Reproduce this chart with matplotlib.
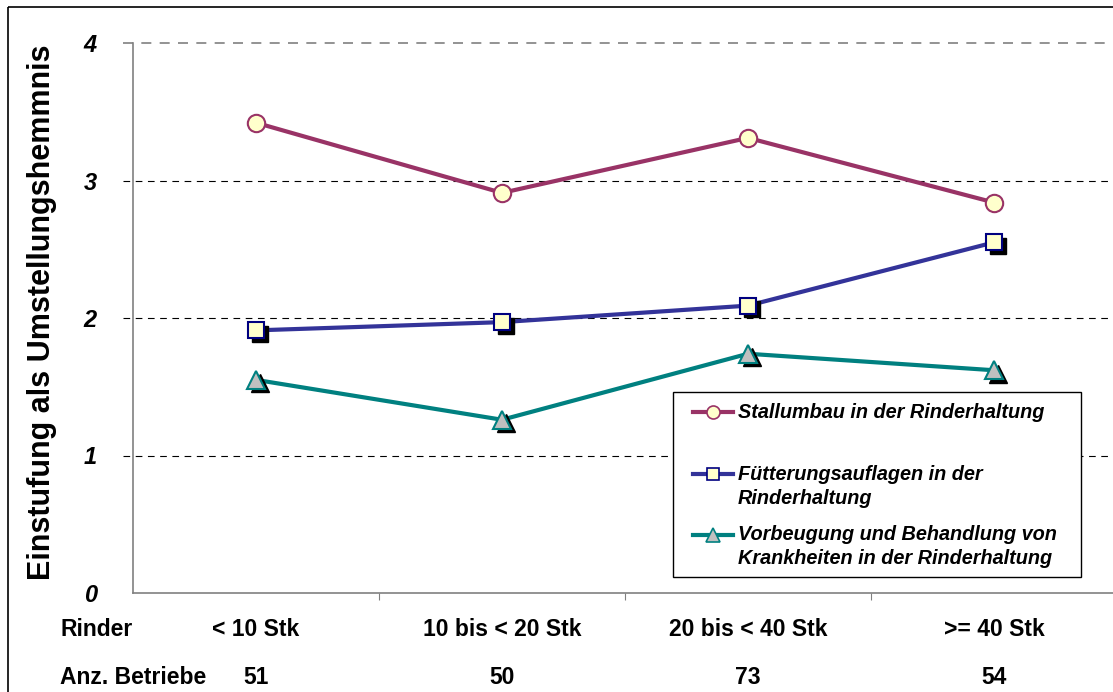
import numpy as np
import matplotlib
matplotlib.use('Agg')
import matplotlib.pyplot as plt
from matplotlib.lines import Line2D
from matplotlib.patches import Rectangle
from matplotlib.transforms import offset_copy

# Daten
kategorien = ['< 10 Stk', '10 bis < 20 Stk', '20 bis < 40 Stk', '>= 40 Stk']
betriebe = ['51', '50', '73', '54']
stallumbau = [3.42, 2.91, 3.31, 2.84]
fuetterung = [1.91, 1.97, 2.09, 2.55]
vorbeugung = [1.55, 1.26, 1.74, 1.62]
labels = [['Stallumbau in der Rinderhaltung'],
          ['Fütterungsauflagen in der', 'Rinderhaltung'],
          ['Vorbeugung und Behandlung von', 'Krankheiten in der Rinderhaltung']]

plt.rcParams['font.family'] = ['Liberation Sans', 'DejaVu Sans']

W, H = 1113, 692
fig = plt.figure(figsize=(W / 100, H / 100), dpi=100)


# Pixel (von oben) -> Figurkoordinaten
def px(x, y):
    return x / W, 1 - y / H


# Rahmen um das ganze Diagramm
fig.patches.append(Rectangle(px(8, 7), 1.2, -1.2, transform=fig.transFigure,
                             fill=False, edgecolor='black', linewidth=1.2))

ax = fig.add_axes([133 / W, 1 - 593 / H, 984 / W, 550 / H])
ax.set_xlim(-0.5, 3.5)
ax.set_ylim(0, 4)
for s in ['top', 'right']:
    ax.spines[s].set_visible(False)
ax.spines['left'].set_color('#808080')
ax.spines['bottom'].set_color('#808080')
ax.spines['left'].set_linewidth(1.2)
ax.spines['bottom'].set_linewidth(1.2)

# Gitterlinien
for v in [1, 2, 3, 4]:
    col = '#808080' if v == 4 else 'black'
    lw = 1.2 if v == 4 else 0.8
    ax.plot([-0.54, 3.5], [v, v], color=col, linewidth=lw, linestyle=(0, (6, 5)),
            clip_on=False, zorder=1)

ax.set_yticks([0, 1, 2, 3, 4])
ax.set_yticklabels(['0', '1', '2', '3', '4'], fontsize=17, fontweight='bold', fontstyle='italic')
ax.tick_params(axis='y', length=0, pad=26)
ax.set_xticks([0.5, 1.5, 2.5])
ax.set_xticklabels([])
ax.tick_params(axis='x', direction='out', length=5, color='#808080')

x = np.arange(len(kategorien))
serien = [
    (stallumbau, '#993366', 'o', '#FFFFCC', '#993366', 12.5, False),
    (fuetterung, '#333399', 's', '#FFFFCC', '#000080', 12, True),
    (vorbeugung, '#008080', '^', '#C0C0C0', '#008080', 13, True),
]
schatten = offset_copy(ax.transData, fig=fig, x=3.5, y=-3.5, units='dots')
for werte, lc, m, fc, ec, ms, sh in serien:
    ax.plot(x, werte, color=lc, linewidth=3, zorder=3)
    if sh:
        ax.plot(x, werte, linestyle='none', marker=m, markersize=ms, color='black',
                transform=schatten, zorder=4)
    ax.plot(x, werte, linestyle='none', marker=m, markersize=ms, markerfacecolor=fc,
            markeredgecolor=ec, markeredgewidth=1.5, zorder=5)

ax.set_ylabel('Einstufung als Umstellungshemmnis', fontsize=22, fontweight='bold')
ax.yaxis.set_label_coords(-0.077, 0.511)

# Kategorien und Anzahl Betriebe
fig.text(*px(60, 629), 'Rinder', fontsize=16.5, fontweight='bold', va='center')
fig.text(*px(60, 678), 'Anz. Betriebe', fontsize=16.5, fontweight='bold', va='center')
for i, (k, b) in enumerate(zip(kategorien, betriebe)):
    xc = ax.transData.transform((i, 0))[0] / W
    fig.text(xc, 1 - 629 / H, k, fontsize=16.5, fontweight='bold', ha='center', va='center')
    fig.text(xc, 1 - 678 / H, b, fontsize=16.5, fontweight='bold', ha='center', va='center')

# Legende
fig.patches.append(Rectangle(px(673, 577), (1081 - 673) / W, (577 - 392) / H,
                             transform=fig.transFigure, facecolor='white',
                             edgecolor='black', linewidth=1, zorder=6))
leg_y = [412, 474, 535]
for (werte, lc, m, fc, ec, ms, sh), zeilen, y in zip(serien, labels, leg_y):
    x0, y0 = px(693, y)
    x1, _ = px(733, y)
    fig.add_artist(Line2D([x0, x1], [y0, y0], color=lc, linewidth=3,
                          transform=fig.transFigure, zorder=7))
    fig.add_artist(Line2D([(x0 + x1) / 2], [y0], marker=m, markersize=ms * 0.75,
                          markerfacecolor=fc, markeredgecolor=ec, markeredgewidth=1.2,
                          transform=fig.transFigure, zorder=8))
    for j, zeile in enumerate(zeilen):
        fig.text(*px(738, y + 24 * j), zeile, fontsize=14.3, fontweight='bold',
                 fontstyle='italic', va='center', ha='left', zorder=8)

fig.savefig('out.png', dpi=100)
